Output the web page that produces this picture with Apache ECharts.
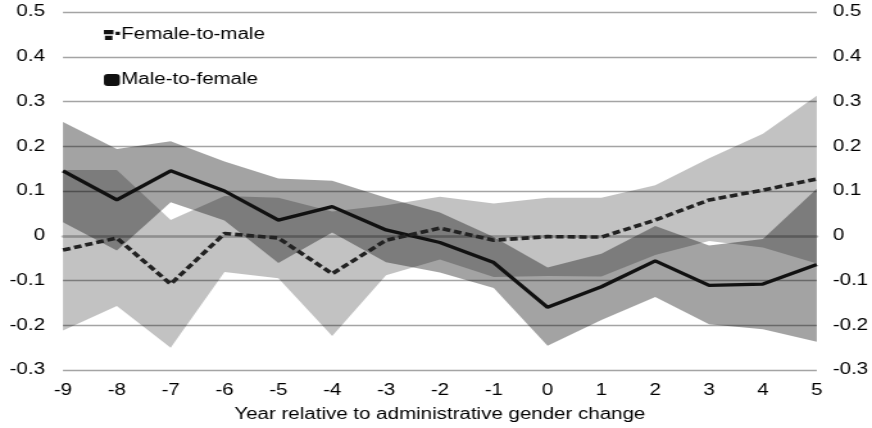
<!DOCTYPE html>
<html>
<head>
<meta charset="utf-8">
<script src="https://cdn.jsdelivr.net/npm/echarts@6/dist/echarts.min.js"></script>
<style>
html,body{margin:0;padding:0;background:#fff;overflow:hidden;width:872px;height:428px;}
#chart{width:680px;height:428px;transform:scaleX(1.282353);transform-origin:0 0;}
</style>
</head>
<body>
<div id="chart"></div>
<script>
const years = ['-9','-8','-7','-6','-5','-4','-3','-2','-1','0','1','2','3','4','5'];
const femaleToMale = [-0.032,-0.005,-0.108,0.005,-0.005,-0.085,-0.010,0.017,-0.010,-0.002,-0.003,0.035,0.080,0.102,0.127];
const ftmLower = [-0.212,-0.157,-0.250,-0.081,-0.095,-0.224,-0.088,-0.053,-0.092,-0.090,-0.091,-0.043,-0.012,-0.026,-0.062];
const ftmUpper = [0.147,0.147,0.035,0.089,0.085,0.054,0.068,0.087,0.072,0.085,0.085,0.113,0.173,0.228,0.313];
const maleToFemale = [0.145,0.080,0.145,0.100,0.035,0.065,0.013,-0.015,-0.060,-0.160,-0.114,-0.056,-0.111,-0.108,-0.064];
const mtfLower = [0.030,-0.033,0.075,0.034,-0.061,0.007,-0.059,-0.082,-0.117,-0.246,-0.188,-0.137,-0.198,-0.209,-0.237];
const mtfUpper = [0.254,0.194,0.211,0.166,0.128,0.123,0.085,0.052,-0.003,-0.071,-0.040,0.022,-0.022,-0.007,0.105];
const yTicks = {min:-0.3, max:0.5, interval:0.1};

const ftmWidth = ftmUpper.map((v,i)=>+(v-ftmLower[i]).toFixed(4));
const mtfWidth = mtfUpper.map((v,i)=>+(v-mtfLower[i]).toFixed(4));

const font = '"Liberation Sans", Arial, Helvetica, sans-serif';
const chart = echarts.init(document.getElementById('chart'), null, {renderer:'canvas', width:680, height:428});

function bandSeries(name, stack, data, area){
  return {
    name: name, type:'line', stack: stack, stackStrategy:'all', data: data,
    symbol:'none', silent:true, lineStyle:{opacity:0, width:0},
    areaStyle: area ? {color: area, opacity:1} : undefined,
    emphasis:{disabled:true}, z:1
  };
}

const yLabelFmt = v => { const r = Math.round(v*10)/10; return r === 0 ? '0' : r.toFixed(1); };

chart.setOption({
  animation:false,
  backgroundColor:'#fff',
  textStyle:{fontFamily:font},
  grid:{left:49.1, right:42.9, top:12, bottom:53, containLabel:false},
  legend:{
    orient:'vertical', left:76, top:21, itemGap:27,
    itemWidth:12.5, itemHeight:12,
    textStyle:{fontFamily:font, fontSize:16, lineHeight:18, color:'#000', padding:[0,0,0,-4]},
    data:[
      {name:'Female-to-male', icon:'path://M0,0h9v5h-9z M11,2h4v4h-4z M1,7h7v5h-7z', itemStyle:{color:'#111'}},
      {name:'Male-to-female', icon:'roundRect', itemStyle:{color:'#111'}}
    ]
  },
  xAxis:{
    type:'category', data:years, boundaryGap:false,
    axisLine:{show:true, lineStyle:{color:'#bdbdbd', width:2.5}},
    axisTick:{show:false},
    axisLabel:{fontFamily:font, fontSize:16, color:'#000', margin:13},
    splitLine:{show:false},
    name:'Year relative to administrative gender change',
    nameLocation:'middle', nameGap:37,
    nameTextStyle:{fontFamily:font, fontSize:16, color:'#000'}
  },
  yAxis:[
    {type:'value', position:'left', min:yTicks.min, max:yTicks.max, interval:yTicks.interval,
     axisLine:{show:false}, axisTick:{show:false},
     axisLabel:{fontFamily:font, fontSize:16, color:'#000', margin:14, formatter:yLabelFmt},
     splitLine:{show:true, lineStyle:{color:'#a4a4a4', width:1.4}}},
    {type:'value', position:'right', min:yTicks.min, max:yTicks.max, interval:yTicks.interval,
     axisLine:{show:false}, axisTick:{show:false},
     axisLabel:{fontFamily:font, fontSize:16, color:'#000', margin:12.5, formatter:yLabelFmt},
     splitLine:{show:false}}
  ],
  series:[
    bandSeries('ftmLow','ftm', ftmLower, null),
    bandSeries('ftmBand','ftm', ftmWidth, 'rgba(0,0,0,0.24)'),
    bandSeries('mtfLow','mtf', mtfLower, null),
    bandSeries('mtfBand','mtf', mtfWidth, 'rgba(0,0,0,0.36)'),
    {name:'Male-to-female', type:'line', data:maleToFemale, symbol:'none', z:3,
     lineStyle:{color:'#111', width:3.3}, itemStyle:{color:'#111'}},
    {name:'Female-to-male', type:'line', data:femaleToMale, symbol:'none', z:4,
     lineStyle:{color:'#222', width:3.6, type:[6,3]}, itemStyle:{color:'#111'}}
  ]
});
</script>
</body>
</html>
